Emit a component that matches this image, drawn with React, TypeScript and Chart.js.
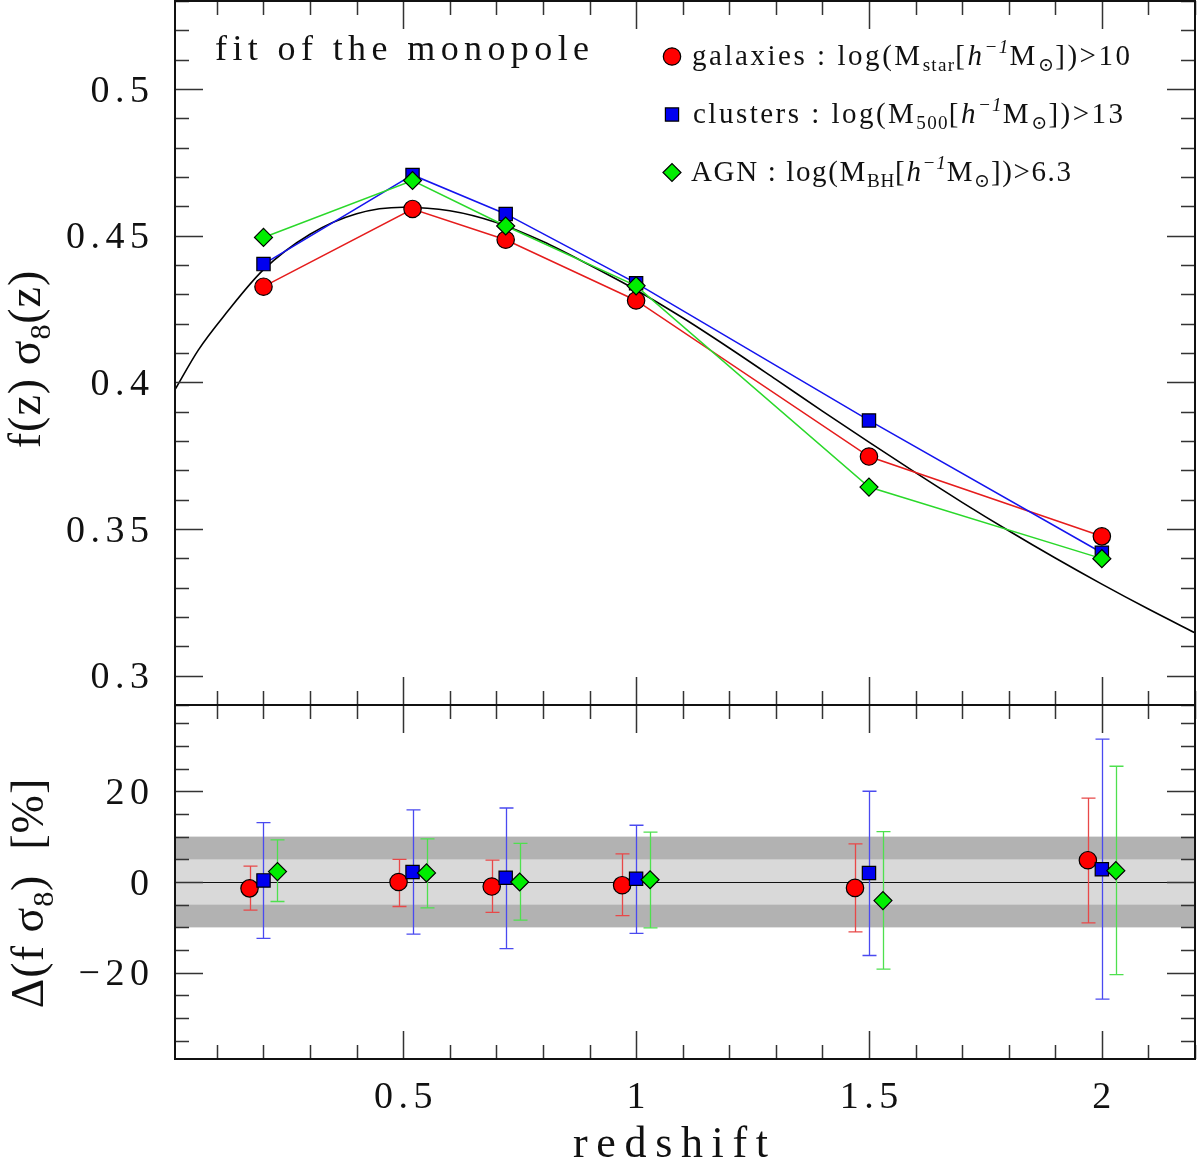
import React, { useEffect, useRef } from 'react';
import { Chart, registerables } from 'chart.js';

Chart.register(...registerables);

// ---------- data ----------
const zBins = [0.2, 0.52, 0.72, 1.0, 1.5, 2.0];
const fs8Galaxies = [0.4326, 0.4591, 0.4486, 0.4279, 0.3747, 0.3475];
const fs8Clusters = [0.4403, 0.4707, 0.4574, 0.4338, 0.387, 0.3419];
const fs8Agn = [0.4494, 0.4688, 0.4533, 0.4329, 0.3643, 0.3399];

const zModel = [0.01, 0.06, 0.12, 0.2, 0.3, 0.4, 0.5, 0.6, 0.7, 0.8, 0.9, 1.0, 1.1, 1.2, 1.3, 1.4, 1.5, 1.6, 1.7, 1.8, 1.9, 2.0, 2.1, 2.2];
const fs8Model = [0.3975, 0.411, 0.4236, 0.4384, 0.4505, 0.4575, 0.4597, 0.4585, 0.4545, 0.448, 0.44, 0.4315, 0.422, 0.4117, 0.401, 0.3902, 0.3796, 0.3692, 0.3591, 0.3494, 0.3401, 0.3312, 0.3227, 0.3146];

// residuals (bottom panel), points slightly offset in redshift
const zResGal = [0.17, 0.49, 0.69, 0.97, 1.47, 1.97];
const zResClu = [0.2, 0.52, 0.72, 1.0, 1.5, 2.0];
const zResAgn = [0.23, 0.55, 0.75, 1.03, 1.53, 2.03];
const resGal = [-1.4, 0.0, -1.0, -0.7, -1.3, 4.8];
const resGalLo = [-6.2, -5.4, -6.7, -7.4, -11.0, -9.0];
const resGalHi = [3.5, 5.0, 4.8, 6.2, 8.4, 18.5];
const resClu = [0.35, 2.2, 0.95, 0.7, 2.0, 2.8];
const resCluLo = [-12.4, -11.5, -14.7, -11.3, -16.2, -25.8];
const resCluHi = [13.1, 15.9, 16.3, 12.5, 20.0, 31.5];
const resAgn = [2.3, 2.0, 0.0, 0.5, -4.1, 2.5];
const resAgnLo = [-4.3, -5.7, -8.4, -10.1, -19.2, -20.4];
const resAgnHi = [9.3, 9.5, 8.5, 11.0, 11.1, 25.5];

const bandInner = [-5, 5];
const bandOuter = [-10, 10];

// ticks
const xTicks = [0.5, 1, 1.5, 2];
const yTopTicks = [0.3, 0.35, 0.4, 0.45, 0.5];
const yBotTicks = [-20, 0, 20];

// ---------- text ----------
type Seg = { t: string; sub?: boolean; sup?: boolean; it?: boolean };
const panelNote = 'fit of the monopole';
const legendGal: Seg[] = [{ t: 'galaxies : log(M' }, { t: 'star', sub: true }, { t: '[' }, { t: 'h', it: true }, { t: '−1', sup: true, it: true }, { t: 'M' }, { t: '⊙', sub: true }, { t: '])>10' }];
const legendClu: Seg[] = [{ t: 'clusters : log(M' }, { t: '500', sub: true }, { t: '[' }, { t: 'h', it: true }, { t: '−1', sup: true, it: true }, { t: 'M' }, { t: '⊙', sub: true }, { t: '])>13' }];
const legendAgn: Seg[] = [{ t: 'AGN : log(M' }, { t: 'BH', sub: true }, { t: '[' }, { t: 'h', it: true }, { t: '−1', sup: true, it: true }, { t: 'M' }, { t: '⊙', sub: true }, { t: '])>6.3' }];
const yTitleTop: Seg[] = [{ t: 'f(z) ' }, { t: 'σ' }, { t: '8', sub: true }, { t: '(z)' }];
const yTitleBot: Seg[] = [{ t: 'Δ(f ' }, { t: 'σ' }, { t: '8', sub: true }, { t: ')  [%]' }];
const xTitle = 'redshift';

// ---------- style ----------
const FONT = '"Liberation Serif", "DejaVu Serif", serif';
const RED_FILL = '#ff0000';
const RED_LINE = '#e51c1c';
const BLUE_FILL = '#0000f0';
const BLUE_LINE = '#1414ee';
const GREEN_FILL = '#00ee00';
const GREEN_LINE = '#2ad82a';
const RED_ERR = '#e84848';
const BLUE_ERR = '#4a4af0';
const GREEN_ERR = '#4ee04e';
const TXT = '#111';

function drawRich(ctx: CanvasRenderingContext2D, segs: Seg[], x: number, y: number, size: number, ls: number, draw = true): number {
  let cx = x;
  for (const s of segs) {
    const small = s.sub || s.sup;
    const fs = small ? size * 0.66 : size;
    ctx.font = `${s.it ? 'italic ' : ''}${fs}px ${FONT}`;
    const dy = s.sub ? size * 0.22 : s.sup ? -size * 0.4 : 0;
    const l = small ? ls * 0.5 : ls;
    for (const ch of s.t) {
      if (draw) ctx.fillText(ch, cx, y + dy);
      cx += ctx.measureText(ch).width + l;
    }
  }
  return cx - x;
}

function richWeight(segs: Seg[]) {
  let n = 0;
  for (const s of segs) n += [...s.t].length * (s.sub || s.sup ? 0.5 : 1);
  return n;
}

function drawRichFit(ctx: CanvasRenderingContext2D, segs: Seg[], x: number, y: number, size: number, width: number) {
  const nat = drawRich(ctx, segs, x, y, size, 0, false);
  const ls = (width - nat) / Math.max(1, richWeight(segs) - 1);
  drawRich(ctx, segs, x, y, size, ls, true);
}

function plainWidth(ctx: CanvasRenderingContext2D, text: string, ls: number) {
  let w = 0;
  for (const ch of text) w += ctx.measureText(ch).width + ls;
  return w - ls;
}

function drawSpaced(ctx: CanvasRenderingContext2D, text: string, x: number, y: number, ls: number) {
  let cx = x;
  for (const ch of text) {
    ctx.fillText(ch, cx, y);
    cx += ctx.measureText(ch).width + ls;
  }
}

function drawFit(ctx: CanvasRenderingContext2D, text: string, left: number, y: number, size: number, width: number) {
  ctx.font = `${size}px ${FONT}`;
  const nat = plainWidth(ctx, text, 0);
  const ls = (width - nat) / (text.length - 1);
  drawSpaced(ctx, text, left, y, ls);
}

function fmt(v: number) {
  const s = String(Math.round(v * 1000) / 1000);
  return s.startsWith('-') ? '−' + s.slice(1) : s;
}

function drawFrameTicks(chart: any, xStepMinor: number, yStepMinor: number, yMajors: number[]) {
  const { ctx, chartArea: a, scales } = chart;
  const xs = scales.x;
  const ys = scales.y;
  const MAJ = 28;
  const MIN = 14;
  ctx.save();
  ctx.strokeStyle = '#333';
  ctx.lineWidth = 1.5;
  ctx.beginPath();
  const isMaj = (v: number, arr: number[]) => arr.some((m) => Math.abs(m - v) < 1e-6);
  for (let k = Math.ceil(xs.min / xStepMinor - 1e-9); k * xStepMinor <= xs.max + 1e-9; k++) {
    const v = Math.round(k * xStepMinor * 1000) / 1000;
    const len = isMaj(v, xTicks) ? MAJ : MIN;
    const px = Math.round(xs.getPixelForValue(v)) + 0.5;
    ctx.moveTo(px, a.bottom);
    ctx.lineTo(px, a.bottom - len);
    ctx.moveTo(px, a.top);
    ctx.lineTo(px, a.top + len);
  }
  for (let k = Math.ceil(ys.min / yStepMinor - 1e-9); k * yStepMinor <= ys.max + 1e-9; k++) {
    const v = Math.round(k * yStepMinor * 1000) / 1000;
    const len = isMaj(v, yMajors) ? MAJ : MIN;
    const py = Math.round(ys.getPixelForValue(v)) + 0.5;
    ctx.moveTo(a.left, py);
    ctx.lineTo(a.left + len, py);
    ctx.moveTo(a.right, py);
    ctx.lineTo(a.right - len, py);
  }
  ctx.stroke();
  ctx.strokeStyle = '#111';
  ctx.lineWidth = 2;
  ctx.strokeRect(a.left, a.top, a.right - a.left, a.bottom - a.top);
  ctx.restore();
}

function drawYLabels(chart: any, vals: number[], right: number) {
  const { ctx, scales } = chart;
  ctx.save();
  ctx.fillStyle = TXT;
  ctx.textBaseline = 'alphabetic';
  const size = 38;
  const ls = 5.5;
  ctx.font = `${size}px ${FONT}`;
  for (const v of vals) {
    const s = fmt(v);
    const w = plainWidth(ctx, s, ls);
    const py = scales.y.getPixelForValue(v);
    drawSpaced(ctx, s, right - w, py + size * 0.335, ls);
  }
  ctx.restore();
}

function drawMarker(ctx: CanvasRenderingContext2D, kind: string, x: number, y: number, fill: string) {
  ctx.save();
  ctx.fillStyle = fill;
  ctx.strokeStyle = '#000';
  ctx.lineWidth = 1.2;
  ctx.beginPath();
  if (kind === 'circle') ctx.arc(x, y, 8.7, 0, Math.PI * 2);
  else if (kind === 'rect') ctx.rect(x - 6.6, y - 6.6, 13.2, 13.2);
  else {
    ctx.moveTo(x - 9, y);
    ctx.lineTo(x, y - 9);
    ctx.lineTo(x + 9, y);
    ctx.lineTo(x, y + 9);
    ctx.closePath();
  }
  ctx.fill();
  ctx.stroke();
  ctx.restore();
}

function drawRotTitle(ctx: CanvasRenderingContext2D, segs: Seg[], bx: number, cy: number, size: number, ls: number) {
  ctx.save();
  ctx.fillStyle = TXT;
  ctx.translate(bx, cy);
  ctx.rotate(-Math.PI / 2);
  const w = drawRich(ctx, segs, 0, 0, size, ls, false);
  drawRich(ctx, segs, -w / 2, 0, size, ls, true);
  ctx.restore();
}

const topDecor = {
  id: 'topDecor',
  afterDraw(chart: any) {
    const ctx: CanvasRenderingContext2D = chart.ctx;
    drawFrameTicks(chart, 0.1, 0.01, yTopTicks);
    drawYLabels(chart, yTopTicks, 149);
    ctx.save();
    ctx.fillStyle = TXT;
    drawFit(ctx, panelNote, 215, 60, 36, 374);
    // legend
    const rows: [Seg[], string, string, number, number, number][] = [
      [legendGal, 'circle', RED_FILL, 65, 692, 438],
      [legendClu, 'rect', BLUE_FILL, 123, 693, 430],
      [legendAgn, 'diamond', GREEN_FILL, 181, 691, 380],
    ];
    for (const [segs, kind, fill, base, x0, w] of rows) {
      drawMarker(ctx, kind, 672, base - 8.5, fill);
      ctx.fillStyle = TXT;
      drawRichFit(ctx, segs, x0, base, 29, w);
    }
    ctx.restore();
    drawRotTitle(ctx, yTitleTop, 40, 359, 46, 1);
  },
};

function errBars(ctx: CanvasRenderingContext2D, xs: any, ys: any, zs: number[], lo: number[], hi: number[], color: string) {
  ctx.save();
  ctx.strokeStyle = color;
  ctx.lineWidth = 1.3;
  ctx.beginPath();
  zs.forEach((z, i) => {
    const px = Math.round(xs.getPixelForValue(z)) + 0.5;
    const y1 = ys.getPixelForValue(lo[i]);
    const y2 = ys.getPixelForValue(hi[i]);
    ctx.moveTo(px, y1);
    ctx.lineTo(px, y2);
    ctx.moveTo(px - 7, y1);
    ctx.lineTo(px + 7, y1);
    ctx.moveTo(px - 7, y2);
    ctx.lineTo(px + 7, y2);
  });
  ctx.stroke();
  ctx.restore();
}

const botDecor = {
  id: 'botDecor',
  beforeDatasetsDraw(chart: any) {
    const { ctx, chartArea: a, scales } = chart;
    const ys = scales.y;
    ctx.save();
    ctx.fillStyle = '#b2b2b2';
    const o1 = ys.getPixelForValue(bandOuter[1]);
    const o0 = ys.getPixelForValue(bandOuter[0]);
    ctx.fillRect(a.left, o1, a.right - a.left, o0 - o1);
    ctx.fillStyle = '#d9d9d9';
    const i1 = ys.getPixelForValue(bandInner[1]);
    const i0 = ys.getPixelForValue(bandInner[0]);
    ctx.fillRect(a.left, i1, a.right - a.left, i0 - i1);
    ctx.strokeStyle = '#111';
    ctx.lineWidth = 1.2;
    ctx.beginPath();
    const zy = Math.round(ys.getPixelForValue(0)) + 0.5;
    ctx.moveTo(a.left, zy);
    ctx.lineTo(a.right, zy);
    ctx.stroke();
    ctx.restore();
    errBars(ctx, scales.x, ys, zResGal, resGalLo, resGalHi, RED_ERR);
    errBars(ctx, scales.x, ys, zResClu, resCluLo, resCluHi, BLUE_ERR);
    errBars(ctx, scales.x, ys, zResAgn, resAgnLo, resAgnHi, GREEN_ERR);
  },
  afterDraw(chart: any) {
    const { ctx, scales } = chart;
    drawFrameTicks(chart, 0.1, 5, yBotTicks);
    drawYLabels(chart, yBotTicks, 149);
    ctx.save();
    ctx.fillStyle = TXT;
    const size = 38;
    const ls = 5.5;
    ctx.font = `${size}px ${FONT}`;
    for (const v of xTicks) {
      const s = fmt(v);
      const w = plainWidth(ctx, s, ls);
      const px = scales.x.getPixelForValue(v);
      drawSpaced(ctx, s, px - w / 2, 408, ls);
    }
    drawFit(ctx, xTitle, 573, 457, 44, 195);
    ctx.restore();
    drawRotTitle(ctx, yTitleBot, 43, 193, 46, 1);
  },
};

const pts = (xs: number[], ys: number[]) => xs.map((x, i) => ({ x, y: ys[i] }));

export default function App() {
  const topRef = useRef<HTMLCanvasElement>(null);
  const botRef = useRef<HTMLCanvasElement>(null);

  useEffect(() => {
    const common: any = {
      responsive: false,
      animation: false,
      devicePixelRatio: 1,
      events: [],
      plugins: { legend: { display: false }, tooltip: { enabled: false } },
    };
    const top = new Chart(topRef.current!, {
      type: 'line',
      data: {
        datasets: [
          {
            label: 'AGN',
            data: pts(zBins, fs8Agn),
            borderColor: GREEN_LINE,
            backgroundColor: GREEN_FILL,
            pointBackgroundColor: GREEN_FILL,
            pointBorderColor: '#000',
            pointBorderWidth: 1.2,
            pointStyle: 'rectRot',
            pointRadius: 9,
            borderWidth: 1.5,
            tension: 0,
            clip: 20,
          },
          {
            label: 'clusters',
            data: pts(zBins, fs8Clusters),
            borderColor: BLUE_LINE,
            backgroundColor: BLUE_FILL,
            pointBackgroundColor: BLUE_FILL,
            pointBorderColor: '#000',
            pointBorderWidth: 1.2,
            pointStyle: 'rect',
            pointRadius: 9.4,
            borderWidth: 1.5,
            tension: 0,
            clip: 20,
          },
          {
            label: 'galaxies',
            data: pts(zBins, fs8Galaxies),
            borderColor: RED_LINE,
            backgroundColor: RED_FILL,
            pointBackgroundColor: RED_FILL,
            pointBorderColor: '#000',
            pointBorderWidth: 1.2,
            pointStyle: 'circle',
            pointRadius: 8.7,
            borderWidth: 1.5,
            tension: 0,
            clip: 20,
          },
          {
            label: 'model',
            data: pts(zModel, fs8Model),
            borderColor: '#000',
            borderWidth: 1.6,
            pointRadius: 0,
            cubicInterpolationMode: 'monotone',
          },
        ],
      } as any,
      options: {
        ...common,
        layout: { autoPadding: false, padding: { left: 175, right: 5, top: 1, bottom: 5 } },
        scales: {
          x: { type: 'linear', min: 0.01, max: 2.2, display: false },
          y: { type: 'linear', min: 0.29, max: 0.53, display: false },
        },
      },
      plugins: [topDecor],
    });

    const bot = new Chart(botRef.current!, {
      type: 'line',
      data: {
        datasets: [
          {
            label: 'AGN',
            data: pts(zResAgn, resAgn),
            showLine: false,
            pointBackgroundColor: GREEN_FILL,
            pointBorderColor: '#000',
            pointBorderWidth: 1.2,
            pointStyle: 'rectRot',
            pointRadius: 9,
          },
          {
            label: 'clusters',
            data: pts(zResClu, resClu),
            showLine: false,
            pointBackgroundColor: BLUE_FILL,
            pointBorderColor: '#000',
            pointBorderWidth: 1.2,
            pointStyle: 'rect',
            pointRadius: 9.4,
          },
          {
            label: 'galaxies',
            data: pts(zResGal, resGal),
            showLine: false,
            pointBackgroundColor: RED_FILL,
            pointBorderColor: '#000',
            pointBorderWidth: 1.2,
            pointStyle: 'circle',
            pointRadius: 8.7,
          },
        ],
      } as any,
      options: {
        ...common,
        layout: { autoPadding: false, padding: { left: 175, right: 5, top: 5, bottom: 104 } },
        scales: {
          x: { type: 'linear', min: 0.01, max: 2.2, display: false },
          y: { type: 'linear', min: -39, max: 39, display: false },
        },
      },
      plugins: [botDecor],
    });

    return () => {
      top.destroy();
      bot.destroy();
    };
  }, []);

  return (
    <div style={{ position: 'absolute', left: 0, top: 0, width: 1200, height: 1163, background: '#fff', overflow: 'hidden' }}>
      <canvas ref={topRef} width={1200} height={710} style={{ position: 'absolute', left: 0, top: 0, width: 1200, height: 710 }} />
      <canvas ref={botRef} width={1200} height={463} style={{ position: 'absolute', left: 0, top: 700, width: 1200, height: 463 }} />
    </div>
  );
}
